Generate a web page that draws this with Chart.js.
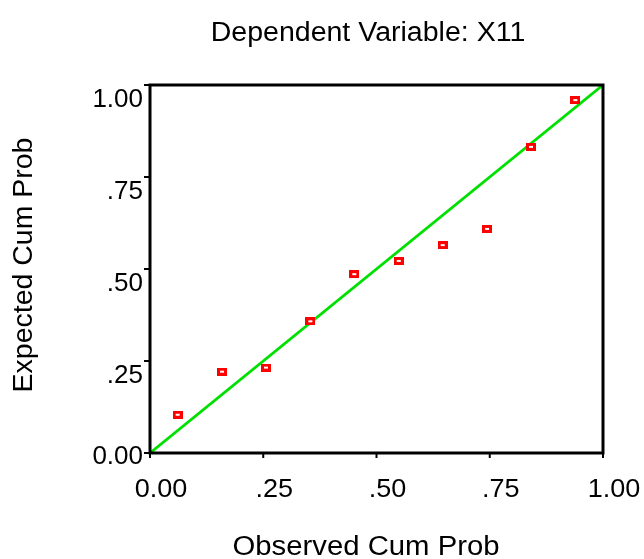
<!DOCTYPE html>
<html>
<head>
<meta charset="utf-8">
<script src="https://cdn.jsdelivr.net/npm/chart.js@4"></script>
<style>
html,body{margin:0;padding:0;background:#fff;}
#wrap{width:644px;height:559px;}
</style>
</head>
<body>
<div id="wrap"><canvas id="c" width="644" height="559"></canvas></div>
<script>
// ---- data ----
const chartTitle = 'Dependent Variable: X11';
const xTitle = 'Observed Cum Prob';
const yTitle = 'Expected Cum Prob';
const observed = [0.061, 0.159, 0.256, 0.354, 0.451, 0.549, 0.646, 0.744, 0.841, 0.939];
const expected = [0.104, 0.221, 0.232, 0.358, 0.486, 0.522, 0.565, 0.609, 0.832, 0.959];
const refLineX = [0, 1];
const refLineY = [0, 1];
const tickValues = [0, 0.25, 0.5, 0.75, 1];
const xTickLabels = ['0.00', '.25', '.50', '.75', '1.00'];
const yTickLabels = ['0.00', '.25', '.50', '.75', '1.00'];

const FONT = '"Liberation Sans", Arial, sans-serif';

// hollow red rectangle marker
function makeMarker() {
  const c = document.createElement('canvas');
  c.width = 10; c.height = 8;
  const g = c.getContext('2d');
  g.fillStyle = '#ff0000';
  g.fillRect(0, 0, 10, 8);
  g.fillStyle = '#ffffff';
  g.fillRect(3, 3, 4, 2);
  return c;
}
const marker = makeMarker();

function stretchText(ctx, text, x, y, sx) {
  ctx.save();
  ctx.translate(x, y);
  ctx.scale(sx, 1);
  ctx.fillText(text, 0, 0);
  ctx.restore();
}

const framePlugin = {
  id: 'frame',
  afterDatasetsDraw(chart) {
    const ctx = chart.ctx;
    const a = chart.chartArea;
    const xs = chart.scales.x, ys = chart.scales.y;
    ctx.save();
    // frame
    ctx.strokeStyle = '#000';
    ctx.lineWidth = 3;
    ctx.lineCap = 'square';
    ctx.strokeRect(a.left, a.top, a.right - a.left, a.bottom - a.top);
    // tick marks
    ctx.lineWidth = 2;
    ctx.lineCap = 'butt';
    tickValues.forEach(v => {
      const py = ys.getPixelForValue(v);
      ctx.beginPath(); ctx.moveTo(a.left - 6, py); ctx.lineTo(a.left, py); ctx.stroke();
      const px = xs.getPixelForValue(v);
      ctx.beginPath(); ctx.moveTo(px, a.bottom); ctx.lineTo(px, a.bottom + 5); ctx.stroke();
    });
    // tick labels
    ctx.fillStyle = '#000';
    ctx.font = '26px ' + FONT;
    ctx.textBaseline = 'alphabetic';
    ctx.textAlign = 'right';
    tickValues.forEach((v, i) => {
      const py = ys.getPixelForValue(v);
      ctx.fillText(yTickLabels[i], a.left - 7, py + (v === 0 ? 11 : 22));
    });
    ctx.textAlign = 'center';
    tickValues.forEach((v, i) => {
      const px = xs.getPixelForValue(v);
      stretchText(ctx, xTickLabels[i], px + 11, a.bottom + 44, 1.04);
    });
    // titles
    ctx.font = '27px ' + FONT;
    stretchText(ctx, chartTitle, 368, 41, 1.057);
    stretchText(ctx, xTitle, 366, 555, 1.085);
    ctx.translate(32, 265);
    ctx.rotate(-Math.PI / 2);
    stretchText(ctx, yTitle, 0, 0, 1.055);
    ctx.restore();
  }
};

new Chart(document.getElementById('c'), {
  type: 'scatter',
  data: {
    datasets: [
      {
        type: 'line',
        data: refLineX.map((x, i) => ({ x, y: refLineY[i] })),
        borderColor: '#00e000',
        borderWidth: 2.8,
        pointRadius: 0,
        fill: false,
        order: 2
      },
      {
        data: observed.map((x, i) => ({ x, y: expected[i] })),
        pointStyle: marker,
        pointRadius: 5,
        borderColor: '#ff0000',
        backgroundColor: '#ff0000',
        order: 1
      }
    ]
  },
  options: {
    responsive: false,
    devicePixelRatio: 1,
    animation: false,
    layout: { padding: { left: 150, top: 85, right: 41, bottom: 106 } },
    plugins: { legend: { display: false }, tooltip: { enabled: false }, title: { display: false } },
    scales: {
      x: { type: 'linear', min: 0, max: 1, display: false },
      y: { type: 'linear', min: 0, max: 1, display: false }
    }
  },
  plugins: [framePlugin]
});
</script>
</body>
</html>
